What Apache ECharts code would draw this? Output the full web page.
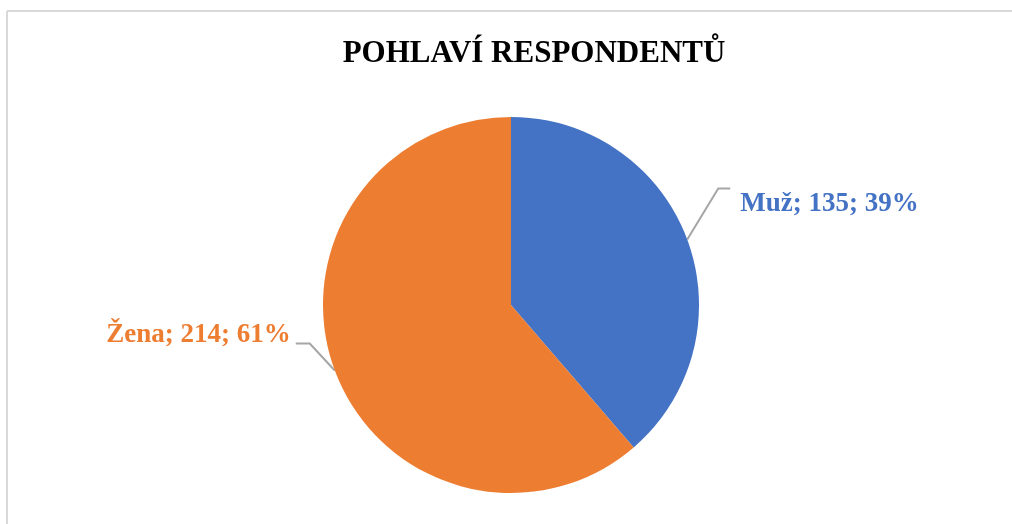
<!DOCTYPE html>
<html>
<head>
<meta charset="utf-8">
<script src="https://cdn.jsdelivr.net/npm/echarts@6/dist/echarts.min.js"></script>
<style>
  html, body { margin: 0; padding: 0; background: #fff; }
  #chart { width: 1012px; height: 524px; }
</style>
</head>
<body>
<div id="chart"></div>
<script>
// data
var titleText = 'POHLAVÍ RESPONDENTŮ'
var categories = ['Muž', 'Žena']
var counts = [135, 214]
var percents = [39, 61]
var colors = ['#4472C4', '#ED7D31']

var chart = echarts.init(document.getElementById('chart'))

var pieData = categories.map(function (name, i) {
  return {
    name: name,
    value: counts[i],
    itemStyle: { color: colors[i] },
    label: { color: colors[i] }
  }
})

chart.setOption({
  backgroundColor: '#fff',
  title: {
    text: titleText,
    left: 529,
    top: 33,
    textAlign: 'center',
    textStyle: {
      fontFamily: 'Liberation Serif',
      fontWeight: 'bold',
      fontSize: 31,
      color: '#000'
    }
  },
  graphic: [
    { type: 'line', shape: { x1: 7, y1: 11, x2: 1012, y2: 11 }, style: { stroke: '#d9d9d9', lineWidth: 2 } },
    { type: 'line', shape: { x1: 7, y1: 11, x2: 7, y2: 524 }, style: { stroke: '#d9d9d9', lineWidth: 2 } }
  ],
  series: [{
    type: 'pie',
    center: [511, 305],
    radius: 188,
    startAngle: 90,
    clockwise: true,
    animation: false,
    data: pieData,
    label: {
      show: true,
      position: 'outside',
      fontFamily: 'Liberation Serif',
      fontWeight: 'bold',
      fontSize: 27,
      formatter: function (p) {
        return p.name + '; ' + p.value + '; ' + percents[p.dataIndex] + '%'
      }
    },
    labelLine: {
      show: true,
      lineStyle: { color: '#a6a6a6', width: 2 }
    },
    labelLayout: function (params) {
      var s = params.labelLinePoints[0]
      if (params.dataIndex === 0) {
        var e = [s[0] + 31, s[1] - 51]
        var f = [e[0] + 12, e[1]]
        return {
          x: f[0] + 10, y: e[1] + 15,
          align: 'left', verticalAlign: 'middle',
          labelLinePoints: [s, e, f]
        }
      }
      var e2 = [s[0] - 25, s[1] - 27]
      var f2 = [e2[0] - 14, e2[1]]
      return {
        x: f2[0] - 5, y: e2[1] - 8,
        align: 'right', verticalAlign: 'middle',
        labelLinePoints: [s, e2, f2]
      }
    }
  }]
})
</script>
</body>
</html>
